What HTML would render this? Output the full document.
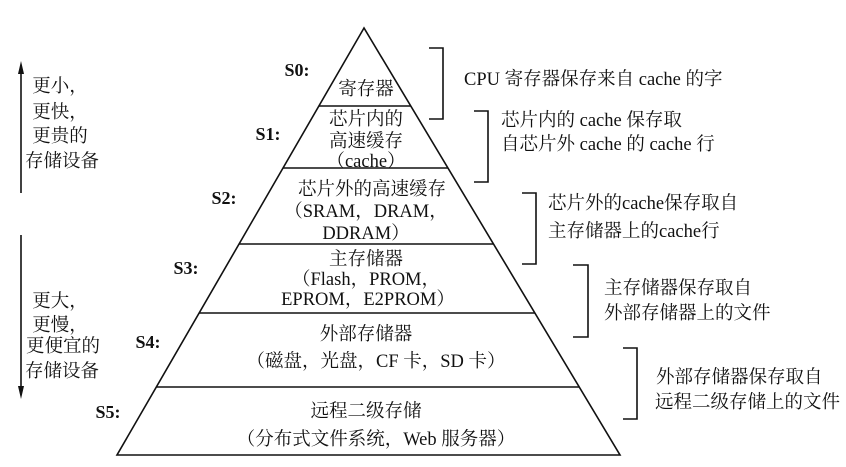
<!DOCTYPE html>
<html><head><meta charset="utf-8"><style>
html,body{margin:0;padding:0;background:#fff;}
svg{display:block;}
text{font-family:"Liberation Serif","Noto Serif CJK SC",serif;font-size:18.5px;fill:#111;}
.c{text-anchor:middle;}
.b{font-weight:bold;font-size:18px;}
</style></head><body>
<svg width="846" height="467" viewBox="0 0 846 467" xmlns="http://www.w3.org/2000/svg">
<g stroke="#111" stroke-width="1.6" fill="none">
<polygon points="364,28 117,455 620,455"/>
<line x1="319" y1="106" x2="411" y2="106"/>
<line x1="283" y1="168" x2="448" y2="168"/>
<line x1="239" y1="244" x2="493" y2="244"/>
<line x1="199" y1="313" x2="535" y2="313"/>
<line x1="156" y1="387" x2="579" y2="387"/>
<polyline points="429,48 443,48 443,119 429,119"/>
<polyline points="474,111 488,111 488,182 474,182"/>
<polyline points="522,193 536,193 536,264 522,264"/>
<polyline points="573,265 588,265 588,337 573,337"/>
<polyline points="623,348 637,348 637,419 623,419"/>
<line x1="21" y1="72" x2="21" y2="193"/>
<line x1="21" y1="235" x2="21" y2="388"/>
</g>
<polygon points="21,61 18,74 24,74" fill="#111"/>
<polygon points="21,399 18,386 24,386" fill="#111"/>
<text x="60" y="92" class="c">更小，</text>
<text x="60" y="118" class="c">更快，</text>
<text x="60" y="142" class="c">更贵的</text>
<text x="62" y="167" class="c">存储设备</text>
<text x="60" y="307" class="c">更大，</text>
<text x="60" y="331" class="c">更慢，</text>
<text x="63" y="352" class="c">更便宜的</text>
<text x="62" y="377" class="c">存储设备</text>
<text x="297" y="76" class="c b">S0:</text>
<text x="268" y="140" class="c b">S1:</text>
<text x="224" y="204" class="c b">S2:</text>
<text x="186" y="274" class="c b">S3:</text>
<text x="148" y="348" class="c b">S4:</text>
<text x="108" y="418" class="c b">S5:</text>
<text x="366" y="95" class="c">寄存器</text>
<text x="366" y="125" class="c">芯片内的</text>
<text x="366" y="147" class="c">高速缓存</text>
<text x="366" y="167" class="c">（cache）</text>
<text x="372" y="195" class="c">芯片外的高速缓存</text>
<text x="366" y="217" class="c">（SRAM，DRAM，</text>
<text x="366" y="239" class="c">DDRAM）</text>
<text x="366" y="265" class="c">主存储器</text>
<text x="366" y="285" class="c">（Flash，PROM，</text>
<text x="368" y="305" class="c">EPROM，E2PROM）</text>
<text x="366" y="340" class="c">外部存储器</text>
<text x="376" y="367" class="c">（磁盘，光盘，CF 卡，SD 卡）</text>
<text x="366" y="417" class="c">远程二级存储</text>
<text x="376" y="445" class="c">（分布式文件系统，Web 服务器）</text>
<text x="464" y="85">CPU 寄存器保存来自 cache 的字</text>
<text x="501" y="126">芯片内的 cache 保存取</text>
<text x="501" y="150">自芯片外 cache 的 cache 行</text>
<text x="548" y="209">芯片外的cache保存取自</text>
<text x="548" y="237">主存储器上的cache行</text>
<text x="604" y="294">主存储器保存取自</text>
<text x="604" y="319">外部存储器上的文件</text>
<text x="656" y="383">外部存储器保存取自</text>
<text x="655" y="408">远程二级存储上的文件</text>
</svg>
</body></html>
